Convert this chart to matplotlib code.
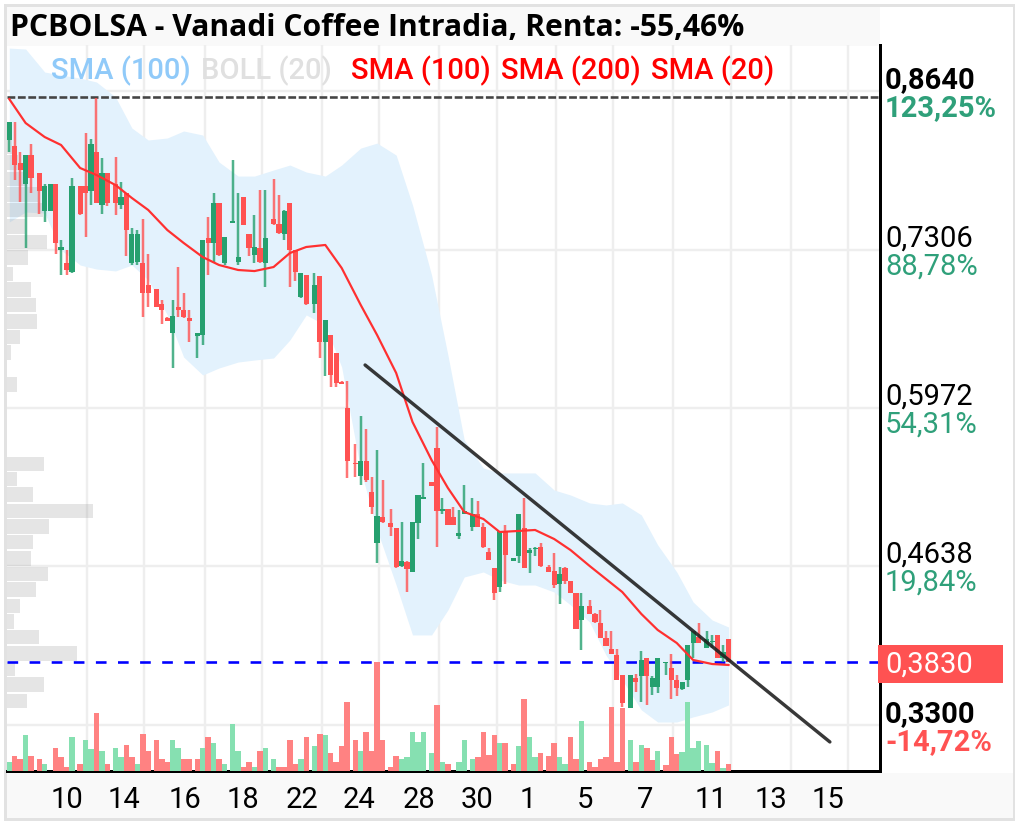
#!/usr/bin/python

import matplotlib
matplotlib.use('Agg')
import matplotlib.pyplot as plt
from matplotlib.patches import Rectangle

W = 1019
H = 826

# candles per trading session, sessions are split by a small gap on the axis
session_sizes = [5, 7, 6, 7, 7, 6, 7, 7, 7, 6, 7, 7, 7, 6, 7, 7, 6, 7, 5]

c_open = [.823, .818, .804, .786, .810,
	.795, .763, .763, .786, .730, .719, .712,
	.784, .784, .780, .813, .768, .795,
	.786, .768, .778, .719, .720, .719, .701,
	.697, .685, .673, .660, .682, .680, .673,
	.658, .659, .740, .736, .770, .719,
	.753, .720, .775, .744, .726, .732, .719,
	.756, .752, .744, .770, .730, .691, .709,
	.685, .708, .653, .659, .643, .619, .597,
	.551, .540, .552, .526, .483, .505,
	.500, .496, .464, .467, .459, .500, .520,
	.535, .563, .510, .512, .505, .489, .508,
	.497, .508, .497, .476, .462, .446, .493,
	.468, .472, .496, .475, .478, .480,
	.463, .460, .449, .462, .451, .441, .418,
	.430, .423, .416, .403, .394, .389, .372,
	.344, .369, .371, .386, .362, .362,
	.382, .378, .368, .360, .368, .399, .404,
	.395, .400, .406, .386, .402]
c_close = [.838, .802, .798, .810, .791,
	.780, .784, .786, .736, .733, .713, .784,
	.761, .778, .820, .770, .795, .770,
	.770, .775, .747, .744, .744, .694, .694,
	.682, .680, .670, .675, .680, .674, .670,
	.660, .739, .736, .770, .726, .741,
	.755, .724, .751, .732, .733, .720, .740,
	.752, .745, .763, .730, .712, .711, .685,
	.701, .653, .671, .625, .618, .617, .552,
	.550, .552, .536, .514, .506, .501,
	.497, .463, .468, .461, .501, .524, .522,
	.531, .510, .512, .498, .498, .492, .510,
	.508, .497, .480, .469, .441, .493, .473,
	.471, .508, .462, .477, .479, .464,
	.459, .448, .457, .451, .441, .411, .430,
	.423, .417, .403, .396, .390, .368, .348,
	.372, .366, .385, .371, .369, .386,
	.383, .368, .361, .366, .397, .409, .399,
	.402, .401, .386, .391, .383]
c_high = [.838, .838, .813, .810, .820,
	.795, .786, .786, .786, .739, .730, .791,
	.784, .829, .824, .858, .808, .795,
	.809, .788, .778, .749, .747, .756, .727,
	.697, .688, .674, .688, .716, .694, .680,
	.660, .739, .758, .778, .770, .741,
	.806, .778, .775, .744, .760, .781, .781,
	.790, .777, .764, .770, .730, .711, .709,
	.711, .708, .671, .659, .643, .620, .620,
	.567, .590, .579, .539, .562, .536,
	.512, .496, .501, .468, .501, .524, .551,
	.535, .581, .521, .512, .514, .511, .532,
	.521, .519, .500, .479, .462, .493, .498,
	.471, .508, .521, .479, .480, .483,
	.465, .475, .463, .463, .451, .441, .441,
	.435, .424, .427, .409, .409, .394, .372,
	.372, .373, .392, .386, .371, .386,
	.383, .390, .372, .366, .397, .409, .416,
	.409, .406, .406, .397, .402]
c_low = [.813, .789, .771, .732, .778,
	.761, .754, .763, .727, .709, .709, .711,
	.760, .741, .768, .770, .761, .767,
	.760, .765, .725, .718, .718, .674, .682,
	.682, .668, .670, .631, .674, .673, .653,
	.639, .650, .709, .719, .725, .718,
	.753, .718, .751, .725, .719, .719, .699,
	.751, .744, .739, .699, .704, .690, .684,
	.677, .639, .624, .615, .615, .617, .538,
	.539, .532, .535, .508, .466, .500,
	.489, .462, .463, .442, .459, .487, .520,
	.531, .480, .508, .498, .498, .487, .508,
	.493, .497, .479, .469, .435, .442, .449,
	.468, .466, .462, .458, .472, .463,
	.459, .445, .432, .449, .441, .411, .393,
	.423, .416, .403, .396, .390, .368, .345,
	.344, .358, .349, .347, .355, .357,
	.372, .352, .354, .359, .362, .386, .399,
	.395, .395, .386, .383, .383]
volume = [26, 45, 35, 108, 45,
	36, 20, 0, 68, 43, 13, 101,
	20, 93, 66, 175, 60, 20,
	68, 43, 78, 43, 20, 110, 60,
	93, 36, 26, 93, 68, 36, 36,
	36, 68, 101, 85, 36, 20,
	142, 60, 13, 28, 13, 60, 68,
	36, 13, 13, 93, 20, 36, 101,
	76, 110, 108, 53, 26, 76, 208,
	93, 60, 118, 60, 328, 93,
	13, 45, 36, 43, 118, 88, 118,
	53, 198, 26, 20, 0, 26, 93,
	36, 43, 118, 48, 108, 85, 85,
	20, 76, 216, 101, 43, 53,
	45, 85, 43, 20, 101, 36, 150,
	28, 13, 36, 43, 191, 28, 190,
	93, 28, 78, 68, 33, 60,
	18, 103, 50, 58, 208, 68, 90,
	78, 23, 60, 8, 20]
# volume colour does not always follow the candle in the picture
vol_up = [1, 0, 0, 1, 0,
	0, 1, 1, 0, 0, 0, 1,
	0, 1, 1, 0, 1, 0,
	1, 1, 0, 0, 1, 0, 0,
	0, 0, 0, 1, 1, 0, 0,
	0, 1, 0, 1, 0, 1,
	1, 1, 0, 0, 1, 0, 1,
	1, 0, 0, 0, 0, 1, 0,
	1, 0, 1, 0, 0, 0, 0,
	0, 1, 0, 0, 0, 0,
	0, 0, 1, 1, 1, 1, 1,
	1, 0, 1, 0, 0, 1, 1,
	1, 0, 0, 0, 0, 1, 0,
	0, 1, 0, 1, 1, 0,
	0, 0, 1, 1, 0, 0, 1,
	0, 0, 0, 0, 0, 0, 0,
	1, 0, 1, 0, 0, 1,
	0, 0, 0, 1, 1, 1, 1,
	1, 1, 0, 1, 0]

# sma and bollinger band read at every third candle
line_idx = list(range(0, 124, 3))
sma_20 = [.8575, .8373, .8255, .8188, .7994, .7935, .7850, .7741, .7640, .7471, .7362,
	.7243, .7176, .7134, .7125, .7159, .7277, .7328, .7345, .7151, .6839,
	.6586, .6266, .5853, .5532, .5296, .5094, .5035, .4925, .4934, .4942,
	.4866, .4773, .4639, .4529, .4419, .4234, .4099, .3989, .3846, .3812, .3804]
boll_up = [.9005, .8997, .8803, .8778, .8752, .8719, .8592, .8331, .8230, .8247, .8306,
	.8272, .8044, .7926, .7926, .7977, .8019, .7960, .7926, .8019, .8162,
	.8204, .8103, .7682, .7092, .6417, .5701, .5465, .5423, .5423, .5423,
	.5279, .5237, .5170, .5153, .5170, .5069, .4816, .4588, .4335, .4183, .4124]
boll_low = [.7539, .7623, .7614, .7303, .7176, .7142, .7126, .7176, .7050, .6755, .6400,
	.6249, .6308, .6358, .6375, .6392, .6544, .6755, .6670, .6316, .5448,
	.4942, .4478, .4057, .4057, .4268, .4546, .4588, .4520, .4478, .4478,
	.4419, .4310, .4166, .3888, .3677, .3425, .3323, .3323, .3366, .3408, .3467]

profile_price = [.817, .804, .790, .777, .764, .750, .737, .724, .710, .697, .684, .670,
	.657, .644, .630, .617, .604, .590, .577, .564, .550, .537, .524, .510,
	.497, .484, .470, .457, .444, .430, .417, .404, .390, .377, .364, .350]
profile_vol = [12, 18, 27, 38, 43, 25, 47, 28, 13, 31, 36, 37,
	20, 11, 0, 17, 0, 0, 0, 0, 44, 17, 33, 93,
	49, 33, 31, 48, 36, 20, 14, 39, 77, 15, 44, 27]

price_ticks = [.8640, .7306, .5972, .4638, .3300]
price_labels = ['0,8640', '0,7306', '0,5972', '0,4638', '0,3300']
pct_labels = ['123,25%', '88,78%', '54,31%', '19,84%', '-14,72%']
date_slots = [14.26, 24.7, 35.9, 46.4, 57.4, 67.8, 78.8, 89.5, 100.3, 110.8, 121.8, 132.4, 143.4, 153.9]
date_labels = ['10', '14', '16', '18', '22', '24', '28', '30', '1', '5', '7', '11', '13', '15']

max_price = .8595
last_price = .3830
trend_x = [65.3, 150.6]
trend_y = [.6333, .3155]

legend_x = [51, 201, 351, 501, 651]
legend_txt = ['SMA (100)', 'BOLL (20)', 'SMA (100)', 'SMA (200)', 'SMA (20)']
legend_col = ['#90caf9', '#e0e0e0', '#ff0000', '#ff0000', '#ff0000']

GREEN = '#26a06f'
RED = '#ff5252'
PX = 0.72	# points per pixel at dpi 100

# x position of each candle, a gap of 1.5 slots between sessions
slots = []
pos = 0.0
for n in session_sizes :
	for i in range(n) :
		slots.append(pos)
		pos += 1.0
	pos += 0.5

line_x = [slots[i] for i in line_idx]

plt.rcParams['font.family'] = ['Roboto', 'DejaVu Sans']

fig = plt.figure(figsize=(W / 100, H / 100), dpi=100, facecolor='white')

def fig_rect(x0, y0, x1, y1, color, z=0) :
	fig.add_artist(Rectangle((x0 / W, 1 - y1 / H), (x1 - x0) / W, (y1 - y0) / H,
		transform=fig.transFigure, facecolor=color, edgecolor='none', zorder=z))

# frame and grey strips
fig_rect(4, 4, 1015, 7, '#e2e2e2')
fig_rect(4, 4, 7, 821, '#e2e2e2')
fig_rect(1013, 4, 1015, 821, '#e2e2e2')
fig_rect(4, 818, 1015, 821, '#e2e2e2')
fig_rect(7, 7, 880, 46, '#f9f9f9')
fig_rect(7, 773, 1013, 818, '#f9f9f9')

ax = fig.add_axes([7 / W, 1 - 771 / H, 873 / W, 726 / H])
ax.set_xlim(-0.42, 159.8)
ax.set_ylim(.291, .9031)
ax.patch.set_alpha(0)
for s in ['left', 'top'] :
	ax.spines[s].set_visible(False)
for s in ['right', 'bottom'] :
	ax.spines[s].set_linewidth(3 * PX)
	ax.spines[s].set_color('black')
	ax.spines[s].set_zorder(20)
ax.set_xticks([])
ax.set_yticks([])

for p in price_ticks :
	ax.axhline(p, color='#eeeeee', lw=2.4 * PX, zorder=1)
for x in date_slots :
	ax.axvline(x, color='#eeeeee', lw=2.4 * PX, zorder=1)

ax.fill_between(line_x, boll_low, boll_up, color='#e3f2fd', lw=0, zorder=2)

# volume profile, widths are the pixel where each bar ends
ax_prof = ax.twiny()
ax_prof.set_xlim(7, 880)
ax_prof.axis('off')
ax_prof.barh(profile_price, profile_vol, height=.0122, color='#808080', alpha=0.2, lw=0, zorder=3)

# volume bars at the bottom
ax_vol = ax.twinx()
ax_vol.set_ylim(0, 2178)
ax_vol.axis('off')
vol_col = ['#86e0b1' if u else '#ff8282' for u in vol_up]
ax_vol.bar(slots, volume, width=1.0, color=vol_col, lw=0, zorder=4)

# candles go on an axes above the twins
ax_top = fig.add_axes(ax.get_position(), sharex=ax, sharey=ax)
ax_top.patch.set_alpha(0)
ax_top.axis('off')

ax_top.axhline(max_price, color='#444444', lw=2.6 * PX, dashes=(3, 1), zorder=5)
ax_top.axhline(last_price, color='#0000ff', lw=2.6 * PX, dashes=(4.1, 4.4), zorder=5)

col = [GREEN if c >= o else RED for o, c in zip(c_open, c_close)]
ax_top.vlines(slots, c_low, c_high, colors=col, lw=2.5 * PX, alpha=0.8, zorder=6)
body_low = [min(o, c) for o, c in zip(c_open, c_close)]
body_h = [abs(c - o) for o, c in zip(c_open, c_close)]
ax_top.bar(slots, body_h, bottom=body_low, width=0.95, color=col, lw=0, zorder=7)

ax_top.plot(line_x, sma_20, color='#ff3030', lw=2.2 * PX, zorder=8)
ax_top.plot(trend_x, trend_y, color='#222222', lw=3.4 * PX, alpha=0.9, zorder=9, solid_capstyle='round')

# date labels start left of their grid line
xaxis_tr = ax_top.get_xaxis_transform()
for x, lab in zip(date_slots, date_labels) :
	ax_top.annotate(lab, xy=(x, 0), xycoords=xaxis_tr, xytext=(-36 * PX, -29 * PX), textcoords='offset points',
		ha='left', va='center', fontsize=21, color='black', annotation_clip=False)

# price labels on the right, the price above and the change below the level
yaxis_tr = ax_top.get_yaxis_transform()
for i in range(len(price_ticks)) :
	strong = i == 0 or i == len(price_ticks) - 1
	pct_col = '#ff5252' if price_ticks[i] < last_price else '#2fa07a'
	ax_top.annotate(price_labels[i], xy=(1, price_ticks[i]), xycoords=yaxis_tr, xytext=(5 * PX, 11 * PX),
		textcoords='offset points', ha='left', va='center', fontsize=21, color='black',
		fontweight='bold' if strong else 'normal', annotation_clip=False)
	ax_top.annotate(pct_labels[i], xy=(1, price_ticks[i]), xycoords=yaxis_tr, xytext=(5 * PX, -17 * PX),
		textcoords='offset points', ha='left', va='center', fontsize=21, color=pct_col,
		fontweight='bold' if strong else 'normal', annotation_clip=False)

# last price tag
fig_rect(878, 645, 1003, 683, RED, z=5)
fig.text(885 / W, 1 - 665 / H, '0,3830', fontsize=21, color='white', ha='left', va='center', zorder=30)

for x, t, c in zip(legend_x, legend_txt, legend_col) :
	fig.text(x / W, 1 - 71 / H, t, color=c, fontsize=21, fontweight='medium', ha='left', va='center', zorder=30)

fig.text(10 / W, 1 - 28 / H, 'PCBOLSA - Vanadi Coffee Intradia, Renta: -55,46%', color='black',
	fontsize=21.7, fontweight='bold', family=['Open Sans', 'DejaVu Sans'], ha='left', va='center', zorder=30)

fig.savefig('out.png', dpi=100)
